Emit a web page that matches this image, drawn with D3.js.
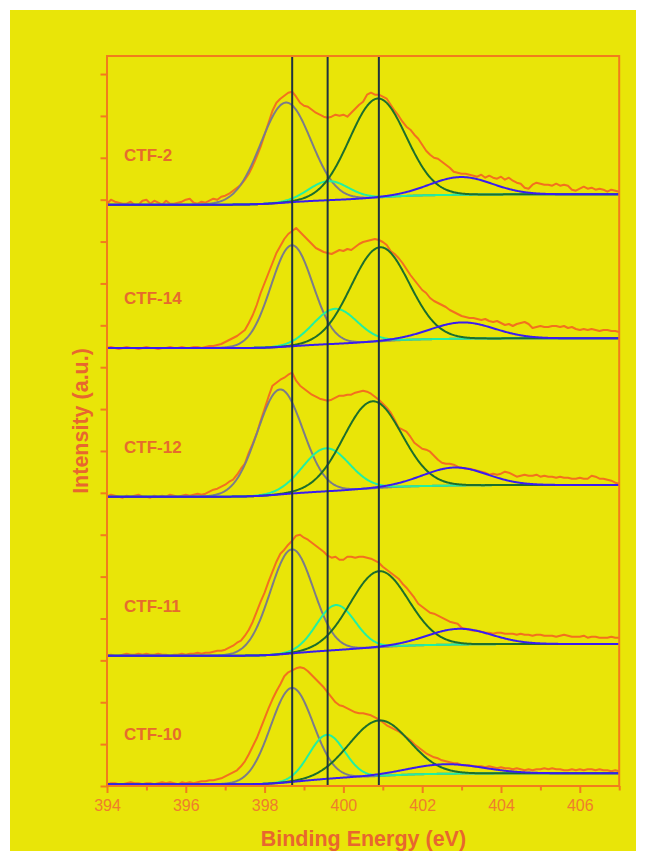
<!DOCTYPE html>
<html><head><meta charset="utf-8">
<script src="https://cdn.jsdelivr.net/npm/d3@7"></script>
<style>html,body{margin:0;padding:0;background:#ffffff;} svg{display:block}</style>
</head><body><svg id="c" width="646" height="861"></svg>
<script>
// ---------- DATA ----------
const samples = ["CTF-2", "CTF-14", "CTF-12", "CTF-11", "CTF-10"];
const offsets = [581.3, 438, 289.3, 130.3, 1.7];     // vertical stacking offset of each spectrum
const bgRise  = [10.4, 9.7, 11.7, 11.7, 11];          // Shirley background rise
const eStart = 394, eStep = 0.1;                      // raw spectra sampled every 0.1 eV

const rawCTF2 = [1,5,3,2,1,1,3,0,0,4,
 5,1,4,2,0,4,1,1,2,3,
 5,6,2,1,3,2,4,6,5,8,
 9,11,14,17,20,25,31,39,48,58,
 70,82,94,102,106,109,112,113,108,102,
 99,98,95,92,90,88,87,88,90,89,
 90,88,92,96,100,103,110,112,110,110,
 108,106,100,94,89,83,78,75,70,66,
 60,54,50,47,46,43,40,37,33,32,
 31,31,30,29,28,30,27,29,27,26,
 28,25,27,24,22,21,17,16,20,22,
 21,20,20,19,21,19,20,19,15,14,
 16,18,16,17,15,16,15,13,15,14,
 13];
const rawCTF14 = [0,1,0,-1,0,1,0,0,-1,0,
 1,0,0,-1,0,0,1,0,0,1,
 0,0,1,1,0,1,2,2,3,4,
 6,8,10,12,15,18,25,33,43,55,
 65,75,85,95,102,109,114,117,120,116,
 112,108,104,100,98,96,95,94,96,98,
 97,99,98,101,104,106,107,108,109,108,
 106,103,97,94,90,85,79,73,68,63,
 58,55,50,47,45,43,41,38,36,34,
 32,31,30,30,29,28,29,27,26,27,
 25,23,24,22,24,25,26,24,20,21,
 22,21,21,22,22,21,22,20,21,19,
 18,19,18,19,18,17,18,18,17,17,
 16];
const rawCTF12 = [0,2,1,0,-1,1,0,1,2,0,
 0,-1,1,0,1,0,2,1,0,1,
 2,1,2,3,2,3,5,7,8,10,
 12,15,17,22,28,33,44,53,63,76,
 88,100,111,114,117,119,122,124,116,111,
 108,105,102,100,98,97,96,97,99,101,
 101,102,102,104,105,106,105,103,100,97,
 93,89,84,77,69,67,65,60,54,51,
 48,47,45,41,37,34,33,33,32,30,
 29,28,28,27,26,25,24,22,23,22,
 23,25,24,22,20,21,22,21,21,22,
 20,21,20,20,19,20,19,19,18,18,
 19,18,18,21,20,18,18,17,16,14,
 13];
const rawCTF11 = [0,1,0,0,1,2,1,1,2,1,
 2,1,1,2,1,1,0,1,1,2,
 1,2,2,3,2,3,3,4,5,5,
 6,8,10,13,15,20,26,34,44,54,
 63,74,84,94,102,106,111,115,120,121,
 118,116,113,110,107,104,100,98,99,96,
 96,99,99,98,99,99,98,97,95,93,
 89,86,83,80,77,72,68,63,58,52,
 49,46,43,42,40,38,36,34,33,32,
 28,27,26,25,25,24,23,23,22,23,
 23,22,22,22,21,22,21,21,20,21,
 21,20,20,20,19,20,21,20,19,19,
 19,20,18,19,19,18,18,18,19,18,
 18];
const rawCTF10 = [0,1,1,0,0,1,2,1,1,0,
 1,1,0,1,2,1,2,1,0,2,
 1,2,1,2,3,3,4,4,5,6,
 8,10,12,14,18,23,30,38,46,56,
 66,76,85,93,100,108,112,114,116,117,
 116,113,109,105,101,97,92,87,82,79,
 78,76,74,72,71,71,70,69,67,65,
 62,59,57,55,53,50,47,44,40,37,
 34,31,29,27,26,24,23,22,21,21,
 19,19,19,18,18,18,17,18,17,16,
 17,16,16,15,16,15,14,15,14,15,
 15,16,15,16,15,15,14,14,15,14,
 15,14,15,15,14,15,14,14,13,14,
 13];
const rawData = [rawCTF2, rawCTF14, rawCTF12, rawCTF11, rawCTF10];

// fitted components: centre (eV), height, FWHM (eV), order = samples
const greyC  = [398.54, 398.69, 398.39, 398.69, 398.69];
const greyH  = [100, 101, 105, 104, 94];
const greyW  = [1.50, 1.25, 1.36, 1.29, 1.27];
const cyanC  = [399.62, 399.79, 399.56, 399.81, 399.58];
const cyanH  = [19, 35, 43, 45, 44];
const cyanW  = [1.2, 1.31, 1.39, 1.15, 1.05];
const greenC = [400.87, 400.93, 400.74, 400.91, 400.91];
const greenH = [99, 94, 87, 76, 55.5];
const greenW = [1.69, 1.73, 1.74, 1.73, 1.79];
const blueC  = [402.98, 403.02, 402.83, 402.94, 402.6];
const blueH  = [17.7, 16.3, 18, 15.7, 9.5];
const blueW  = [1.86, 1.9, 1.9, 1.9, 2.2];

const refLines = [398.7, 399.6, 400.9];
const xMajor = [394, 396, 398, 400, 402, 404, 406];
const xMinor = [395, 397, 399, 401, 403, 405, 407];
const yTickStep = 41.88, yTickCount = 18;

// ---------- STYLE ----------
const C = {
  bg: "#e9e508", axis: "#f27c1c", tick: "#ef7d2c", title: "#e8672e", label: "#e66b2d",
  raw: "#f3701e", grey: "#7c7c88", cyan: "#22f0a0", green: "#1c6e2c", blue: "#3a1cf0", vline: "#1f3340"
};
const FONT = "'Liberation Sans', Arial, Helvetica, sans-serif";

// ---------- CHART ----------
const W = 646, H = 861;
const x = d3.scaleLinear().domain([394, 407]).range([107, 619.2]);
const y = d3.scaleLinear().domain([0, 730]).range([786, 56]);
const svg = d3.select("#c");
svg.append("rect").attr("width", W).attr("height", H).attr("fill", "#ffffff");
svg.append("rect").attr("x", 10).attr("y", 10).attr("width", W - 20).attr("height", H - 20).attr("fill", C.bg);

svg.append("defs").append("clipPath").attr("id", "clip")
  .append("rect").attr("x", x(394)).attr("y", y(730)).attr("width", x(407) - x(394)).attr("height", y(0) - y(730));

const plot = svg.append("g").attr("clip-path", "url(#clip)");
const gauss = (e, c, h, w) => h * Math.exp(-4 * Math.LN2 * (e - c) * (e - c) / (w * w));
const fine = d3.range(0, 651).map(k => 394 + k * 0.02);
const line = d3.line().x(d => x(d[0])).y(d => y(d[1]));

samples.forEach((name, i) => {
  const comps = [
    { c: greyC[i], h: greyH[i], w: greyW[i], col: C.grey },
    { c: cyanC[i], h: cyanH[i], w: cyanW[i], col: C.cyan },
    { c: greenC[i], h: greenH[i], w: greenW[i], col: C.green },
    { c: blueC[i], h: blueH[i], w: blueW[i], col: C.blue }
  ];
  const total = fine.map(e => d3.sum(comps, p => gauss(e, p.c, p.h, p.w)));
  const cum = Array.from(d3.cumsum(total));
  const tot = cum[cum.length - 1];
  const bg = cum.map(v => offsets[i] + bgRise[i] * v / tot);

  const raw = rawData[i].map((v, k) => [eStart + k * eStep, offsets[i] + v]);
  plot.append("path").attr("d", line(raw)).attr("fill", "none")
    .attr("stroke", C.raw).attr("stroke-width", 2).attr("stroke-linejoin", "round");

  comps.forEach(p => {
    const pts = fine.map((e, k) => [e, bg[k] + gauss(e, p.c, p.h, p.w)]);
    plot.append("path").attr("d", line(pts)).attr("fill", "none")
      .attr("stroke", p.col).attr("stroke-width", 2);
  });

  svg.append("text").attr("x", 124).attr("y", y(offsets[i] + 44))
    .attr("fill", C.label).attr("font-family", FONT).attr("font-weight", "bold")
    .attr("font-size", 17).text(name);
});

refLines.forEach(e => {
  plot.append("line").attr("x1", x(e)).attr("x2", x(e)).attr("y1", y(730)).attr("y2", y(0))
    .attr("stroke", C.vline).attr("stroke-width", 2);
});

// frame
svg.append("rect").attr("x", x(394)).attr("y", y(730)).attr("width", x(407) - x(394)).attr("height", y(0) - y(730))
  .attr("fill", "none").attr("stroke", C.axis).attr("stroke-width", 2);

// x axis
const xAx = svg.append("g").attr("transform", `translate(0,${y(0)})`)
  .call(d3.axisBottom(x).tickValues(xMajor).tickSize(7).tickPadding(7).tickFormat(d3.format("d")));
const xAxMin = svg.append("g").attr("transform", `translate(0,${y(0)})`)
  .call(d3.axisBottom(x).tickValues(xMinor).tickSize(4.5).tickFormat(""));
// y axis
const yAx = svg.append("g").attr("transform", `translate(${x(394)},0)`)
  .call(d3.axisLeft(y).tickValues(d3.range(yTickCount).map(k => k * yTickStep)).tickSize(6.5).tickFormat(""));
[xAx, xAxMin, yAx].forEach(g => {
  g.select(".domain").remove();
  g.selectAll("line").attr("stroke", C.axis).attr("stroke-width", 2);
  g.selectAll("text").attr("fill", C.tick).attr("font-family", FONT).attr("font-size", 16);
});

svg.append("text").attr("x", 363.4).attr("y", 846).attr("text-anchor", "middle")
  .attr("fill", C.title).attr("font-family", FONT).attr("font-weight", "bold").attr("font-size", 21.5)
  .text("Binding Energy (eV)");
svg.append("text").attr("transform", "translate(88,421) rotate(-90)").attr("text-anchor", "middle")
  .attr("fill", C.title).attr("font-family", FONT).attr("font-weight", "bold").attr("font-size", 21.5)
  .text("Intensity (a.u.)");
</script>
</body></html>
